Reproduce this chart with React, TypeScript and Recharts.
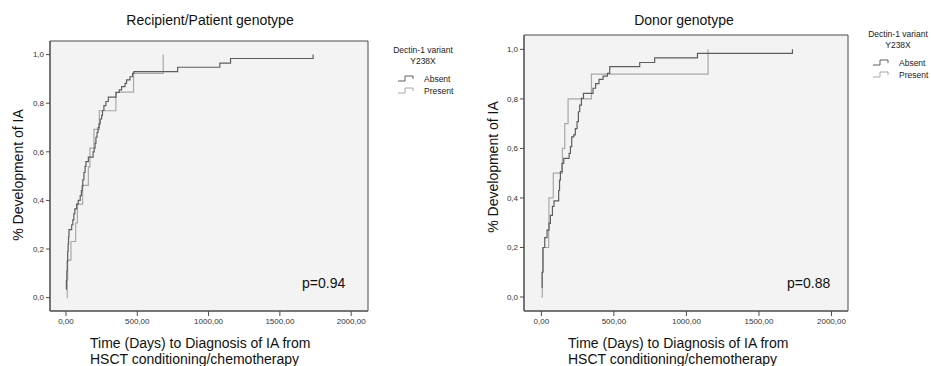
import React from 'react';
import { LineChart, Line, XAxis, YAxis, CartesianGrid, ReferenceArea } from 'recharts';

// Recipient/Patient genotype panel
const leftAbsentDays = [0, 3, 6, 9, 12, 15, 18, 21, 40, 48, 55, 62, 75, 86, 100, 108, 114, 118, 126, 134, 140, 157, 190, 198, 204, 210, 218, 225, 232, 240, 250, 256, 266, 280, 297, 351, 374, 390, 414, 425, 449, 467, 476, 783, 1079, 1154, 1733];
const leftAbsentValues = [0.035, 0.07, 0.11, 0.15, 0.19, 0.22, 0.25, 0.28, 0.30, 0.32, 0.345, 0.365, 0.385, 0.40, 0.42, 0.44, 0.46, 0.485, 0.515, 0.54, 0.56, 0.578, 0.60, 0.615, 0.635, 0.66, 0.68, 0.70, 0.715, 0.735, 0.75, 0.77, 0.79, 0.807, 0.825, 0.844, 0.855, 0.868, 0.882, 0.896, 0.909, 0.923, 0.93, 0.948, 0.965, 0.984, 1.0];
const leftPresentDays = [5, 9, 12, 35, 68, 80, 117, 157, 168, 196, 234, 350, 474, 682];
const leftPresentValues = [0, 0.077, 0.154, 0.231, 0.308, 0.385, 0.462, 0.538, 0.615, 0.692, 0.769, 0.846, 0.923, 1.0];

// Donor genotype panel
const rightAbsentDays = [0, 5, 11, 23, 39, 53, 62, 76, 87, 119, 125, 131, 142, 154, 191, 200, 209, 223, 234, 246, 255, 264, 276, 290, 356, 374, 397, 425, 455, 471, 678, 781, 1076, 1731];
const rightAbsentValues = [0.04, 0.1, 0.2, 0.24, 0.27, 0.297, 0.33, 0.366, 0.388, 0.43, 0.472, 0.506, 0.54, 0.56, 0.58, 0.607, 0.647, 0.655, 0.68, 0.708, 0.748, 0.775, 0.802, 0.822, 0.843, 0.862, 0.879, 0.892, 0.903, 0.93, 0.947, 0.966, 0.984, 1.0];
const rightPresentDays = [0, 6, 10, 50, 52, 82, 145, 161, 184, 345, 1149];
const rightPresentValues = [0, 0.1, 0.2, 0.3, 0.4, 0.5, 0.6, 0.7, 0.8, 0.9, 1.0];

const xTicks = [0, 500, 1000, 1500, 2000];
const yTicks = [0, 0.2, 0.4, 0.6, 0.8, 1.0];
const seriesNames = ['Absent', 'Present'];
const legendTitle = ['Dectin-1 variant', 'Y238X'];
const titles = ['Recipient/Patient genotype', 'Donor genotype'];
const pValues = ['p=0.94', 'p=0.88'];
const yLabel = '% Development of IA';
const xLabel = ['Time (Days) to Diagnosis of IA from', 'HSCT conditioning/chemotherapy'];

const zip = (d: number[], v: number[]) => d.map((day, i) => ({ day, v: v[i] }));

const FONT = '"Liberation Sans", Arial, sans-serif';
const ABSENT = '#5e5e5e';
const PRESENT = '#a8a8a8';
const FRAME = '#4a4a4a';

const fmtX = (v: number) => v.toFixed(2).replace('.', ',');
const fmtY = (v: number) => v.toFixed(1).replace('.', ',');

type PanelProps = {
  width: number;
  margin: { top: number; right: number; bottom: number; left: number };
  xDomain: [number, number];
  yDomain: [number, number];
  absent: { day: number; v: number }[];
  present: { day: number; v: number }[];
};

const Panel = ({ width, margin, xDomain, yDomain, absent, present }: PanelProps) => (
  <LineChart width={width} height={366} margin={margin}>
    <CartesianGrid fill="#f3f3f3" horizontal={false} vertical={false} />
    <XAxis
      type="number"
      dataKey="day"
      domain={xDomain}
      ticks={xTicks}
      allowDataOverflow
      tickFormatter={fmtX}
      tickSize={5}
      tickMargin={2}
      height={30}
      stroke={FRAME}
      tick={{ fontSize: 8, fill: '#333', fontFamily: FONT }}
    />
    <YAxis
      type="number"
      dataKey="v"
      domain={yDomain}
      ticks={yTicks}
      allowDataOverflow
      tickFormatter={fmtY}
      tickSize={4}
      tickMargin={2}
      width={40}
      stroke={FRAME}
      tick={{ fontSize: 8, fill: '#333', fontFamily: FONT }}
    />
    <ReferenceArea
      x1={xDomain[0]}
      x2={xDomain[1]}
      y1={yDomain[0]}
      y2={yDomain[1]}
      fill="none"
      stroke={FRAME}
      strokeWidth={1}
    />
    <Line data={present} dataKey="v" name={seriesNames[1]} type="stepAfter" stroke={PRESENT} strokeWidth={1.2} dot={false} isAnimationActive={false} />
    <Line data={absent} dataKey="v" name={seriesNames[0]} type="stepAfter" stroke={ABSENT} strokeWidth={1.2} dot={false} isAnimationActive={false} />
  </LineChart>
);

const StepIcon = ({ x, y, color }: { x: number; y: number; color: string }) => (
  <path d={`M${x},${y} H${x + 7} V${y - 5} H${x + 15} V${y - 2}`} fill="none" stroke={color} strokeWidth={1} />
);

const LegendBlock = ({ cx, top, iconX, textX }: { cx: number; top: number; iconX: number; textX: number }) => (
  <g fontFamily={FONT} fill="#222">
    <text x={cx} y={top} fontSize={8.5} textAnchor="middle">{legendTitle[0]}</text>
    <text x={cx} y={top + 11} fontSize={8.5} textAnchor="middle">{legendTitle[1]}</text>
    <StepIcon x={iconX} y={top + 28} color={ABSENT} />
    <text x={textX} y={top + 29} fontSize={8.5}>{seriesNames[0]}</text>
    <StepIcon x={iconX} y={top + 40} color={PRESENT} />
    <text x={textX} y={top + 41} fontSize={8.5}>{seriesNames[1]}</text>
  </g>
);

export default function App() {
  return (
    <div style={{ position: 'absolute', left: 0, top: 0, width: 931, height: 366, background: '#fff', overflow: 'hidden' }}>
      <div style={{ position: 'absolute', left: 0, top: 0 }}>
        <Panel
          width={470}
          margin={{ top: 41, right: 102, bottom: 25, left: 10 }}
          xDomain={[-112, 2118]}
          yDomain={[-0.055, 1.056]}
          absent={zip(leftAbsentDays, leftAbsentValues)}
          present={zip(leftPresentDays, leftPresentValues)}
        />
      </div>
      <div style={{ position: 'absolute', left: 470, top: 0 }}>
        <Panel
          width={461}
          margin={{ top: 35, right: 83, bottom: 25, left: 14 }}
          xDomain={[-120, 2114]}
          yDomain={[-0.0565, 1.058]}
          absent={zip(rightAbsentDays, rightAbsentValues)}
          present={zip(rightPresentDays, rightPresentValues)}
        />
      </div>
      <svg width={931} height={366} style={{ position: 'absolute', left: 0, top: 0, pointerEvents: 'none' }}>
        <g fontFamily={FONT} fill="#111">
          <text x={210} y={25} fontSize={14} textAnchor="middle">{titles[0]}</text>
          <text x={684} y={25} fontSize={14} textAnchor="middle">{titles[1]}</text>
          <text transform="translate(23,175) rotate(-90)" fontSize={14} textAnchor="middle">{yLabel}</text>
          <text transform="translate(498,167) rotate(-90)" fontSize={14} textAnchor="middle">{yLabel}</text>
          <text x={90} y={348} fontSize={14}>{xLabel[0]}</text>
          <text x={90} y={364} fontSize={14}>{xLabel[1]}</text>
          <text x={568} y={348} fontSize={14}>{xLabel[0]}</text>
          <text x={568} y={364} fontSize={14}>{xLabel[1]}</text>
          <text x={302} y={288} fontSize={14}>{pValues[0]}</text>
          <text x={787} y={288} fontSize={14}>{pValues[1]}</text>
        </g>
        <LegendBlock cx={423} top={53} iconX={398} textX={424} />
        <LegendBlock cx={898} top={37} iconX={873} textX={899} />
      </svg>
    </div>
  );
}
